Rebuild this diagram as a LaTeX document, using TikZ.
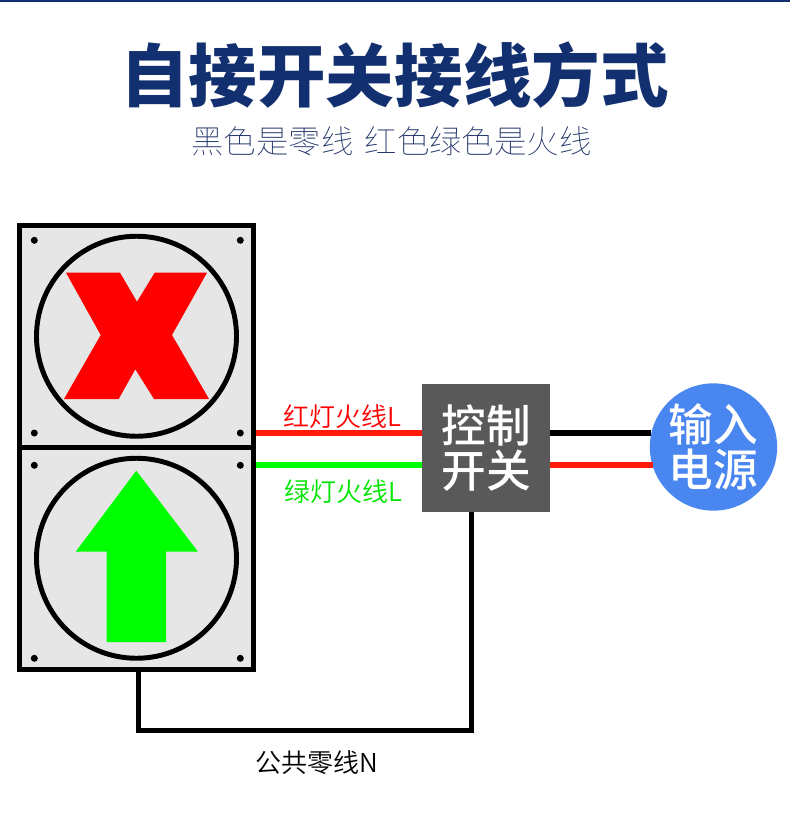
\documentclass[tikz,border=0pt]{standalone}
\usepackage{fontspec}
\usetikzlibrary{shapes,arrows}
\newfontfamily\cjk{Noto Sans CJK SC DemiLight}
\newfontfamily\cjkblack{Noto Sans CJK SC Black}
\newfontfamily\cjkthin{Noto Sans CJK SC Thin}
\newfontfamily\cjkmed{Noto Sans CJK SC Medium}
\definecolor{navy}{HTML}{12306F}
\definecolor{subnavy}{HTML}{1E3268}
\definecolor{panelgray}{HTML}{E6E6E6}
\definecolor{boxgray}{HTML}{595959}
\definecolor{powerblue}{HTML}{4A86F0}
\definecolor{wirered}{HTML}{FF1A0A}
\tikzstyle{panel} = [rectangle, draw, line width=3.75pt, fill=panelgray, outer sep=0pt,
    minimum width=175.5pt, minimum height=166.5pt]
\tikzstyle{ring} = [circle, draw, line width=3.7pt, minimum size=150pt, inner sep=0pt, outer sep=0pt]
\tikzstyle{unit} = [text=white, align=center, inner sep=0pt, outer sep=0pt,
    font=\cjkmed\fontsize{33.5}{33.5}\selectfont]
\tikzstyle{wire} = [line width=3.9pt]
\tikzstyle{tag} = [inner sep=0pt, font=\cjk\fontsize{19.5}{20}\selectfont]
\tikzstyle{screw} = [fill=black]
\begin{document}
\begin{tikzpicture}[x=0.75pt, y=-0.75pt, node distance=166.5pt]
    \useasboundingbox (0,0) rectangle (790,833);
    \fill [navy] (0,0) rectangle (790,2);
    % Place nodes
    \node [inner sep=0pt, text=navy, font=\cjkblack\fontsize{51.4}{52}\selectfont] (title) at (394.5,75) {自接开关接线方式};
    \node [inner sep=0pt, text=subnavy, font=\cjkthin\fontsize{24.3}{25}\selectfont] (subtitle) at (391.5,141) {黑色是零线\hspace{3pt} 红色绿色是火线};
    \node [panel] (panelred) at (136.5,336.25) {};
    \node [panel, below of=panelred] (panelgreen) {};
    \node [ring] (ringred) at (panelred.center) {};
    \node [ring] (ringgreen) at (panelgreen.center) {};
    \node [rectangle, fill=boxgray, unit, minimum width=96pt, minimum height=96pt] (switch) at (486,448) {控制\\开关};
    \node [circle, fill=powerblue, unit, minimum size=95.5pt] (power) at (713.5,447) {输入\\电源};
    \node [tag, text=red] (redlabel) at (342,417) {红灯火线L};
    \node [tag, text=green!90!black] (greenlabel) at (343,492) {绿灯火线L};
    \node [tag, text=black] (neutrallabel) at (316.5,763) {公共零线N};
    \foreach \sx/\sy in {34.3/240.3, 240.3/240.3, 34.3/433, 240.3/433, 34.3/465.3, 240.3/465.3, 34.3/658.3, 240.3/658.3}
        \fill [screw] (\sx,\sy) circle (3.5);
    % Lamp signs
    \fill [red] (66,272.7) -- (120,272.7) -- (137,301.7) -- (154.7,272.7) -- (207,272.7) -- (172,335)
        -- (209,399) -- (154,399) -- (135.3,369.3) -- (118.7,399) -- (64,399) -- (100.7,335) -- cycle;
    \fill [green] (136.3,470.7) -- (198,551.7) -- (166,551.7) -- (166,642) -- (106.7,642)
        -- (106.7,551.7) -- (75.7,551.7) -- cycle;
    % Draw edges
    \coordinate (upper) at (0,433);
    \coordinate (lower) at (0,465);
    \coordinate (lampdrop) at (138.7,730.3);
    \coordinate (switchdrop) at (471.7,730.3);
    \draw [wire, wirered, shorten <=1.875pt] (panelred.east |- upper) -- (switch.west |- upper);
    \draw [wire, green, shorten <=1.875pt] (panelgreen.east |- lower) -- (switch.west |- lower);
    \draw [wire, black, shorten >=-1.2pt] (switch.east |- upper) -- (power.west |- upper);
    \draw [wire, wirered, shorten >=-2pt] (switch.east |- lower) -- (power.west |- lower);
    \draw [wire, black] (lampdrop |- panelgreen.south) -- (lampdrop) -- (switchdrop) -- (switchdrop |- switch.south);
\end{tikzpicture}
\end{document}
